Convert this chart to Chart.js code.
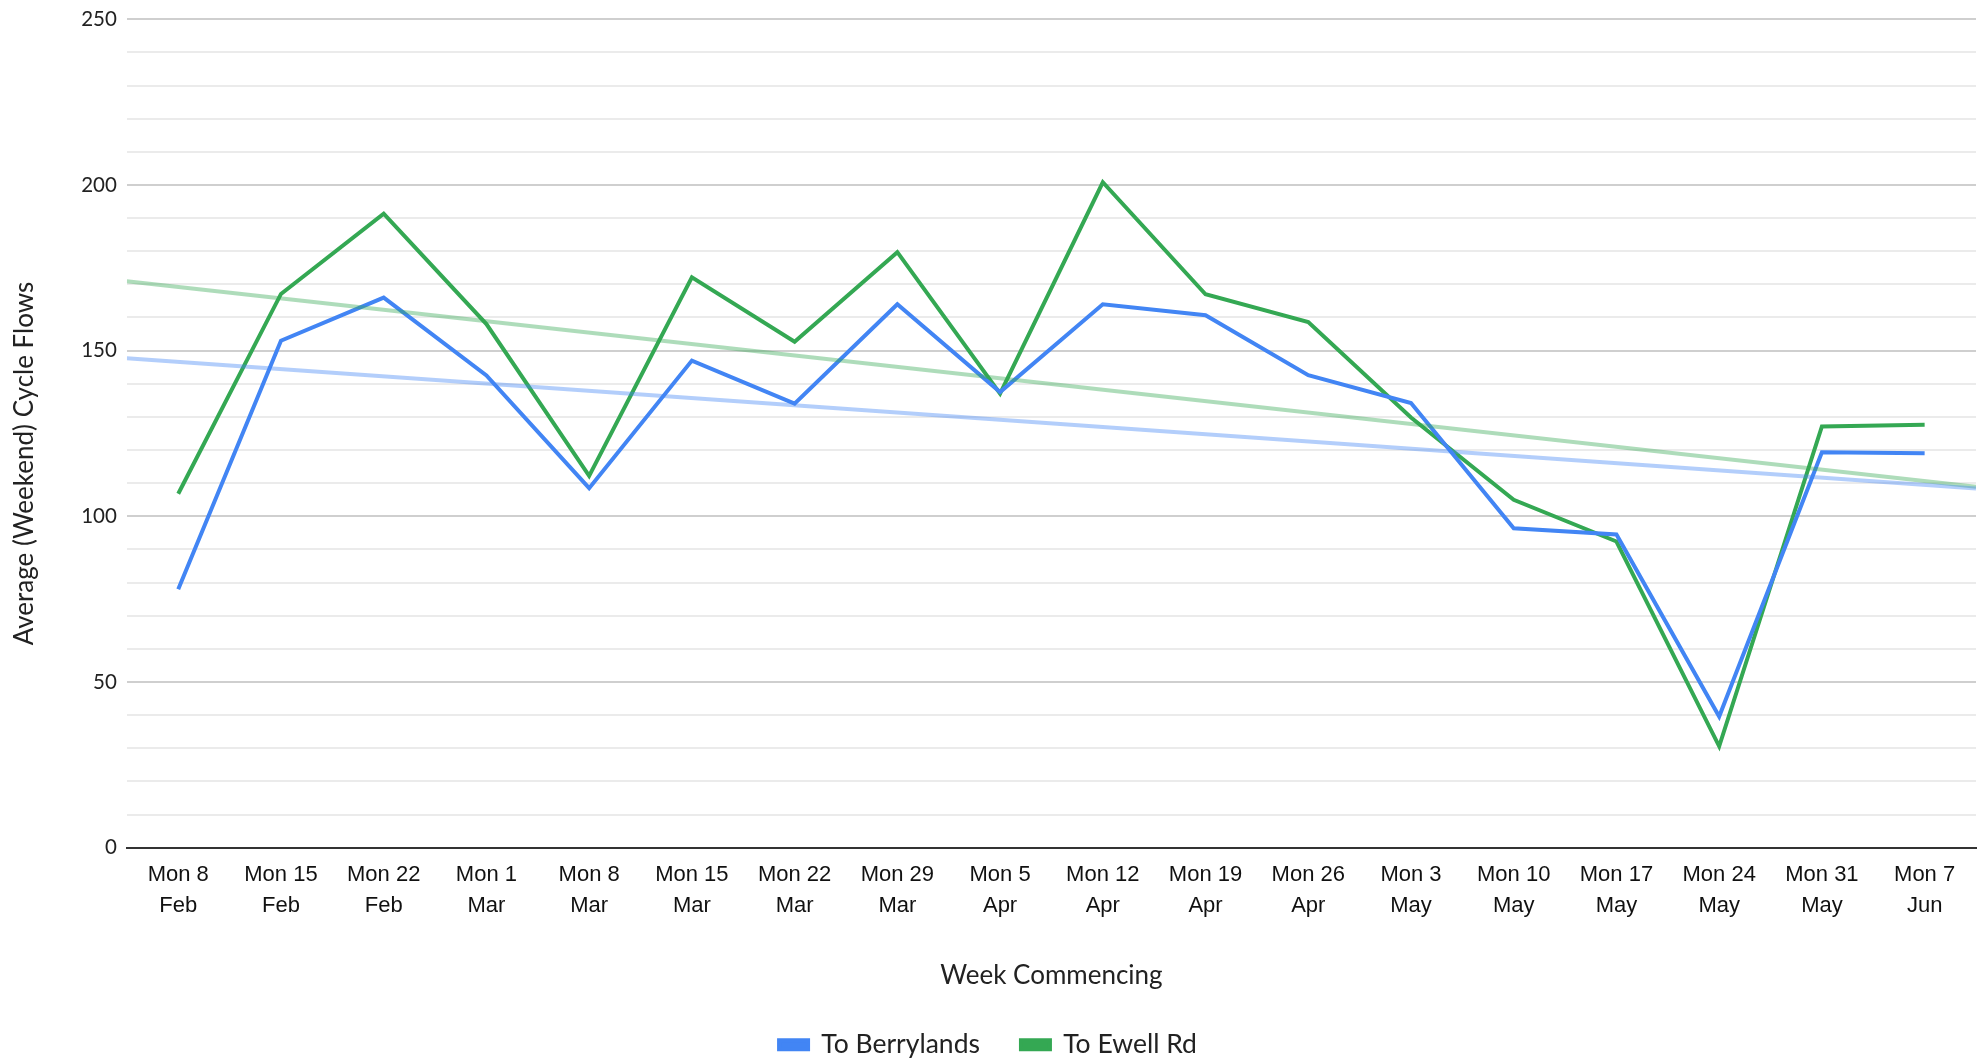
<!DOCTYPE html>
<html><head><meta charset="utf-8">
<script src="https://cdn.jsdelivr.net/npm/chart.js@4.4.1/dist/chart.umd.min.js"></script>
<style>html,body{margin:0;padding:0;background:#fff;overflow:hidden}</style>
</head><body>
<canvas id="c" width="1984" height="1064"></canvas>
<script>
const categories = [
  ['Mon 8','Feb'],['Mon 15','Feb'],['Mon 22','Feb'],['Mon 1','Mar'],['Mon 8','Mar'],
  ['Mon 15','Mar'],['Mon 22','Mar'],['Mon 29','Mar'],['Mon 5','Apr'],['Mon 12','Apr'],
  ['Mon 19','Apr'],['Mon 26','Apr'],['Mon 3','May'],['Mon 10','May'],['Mon 17','May'],
  ['Mon 24','May'],['Mon 31','May'],['Mon 7','Jun']
];
const toBerrylands = [78, 153, 166, 142.5, 108.5, 147, 134, 164, 137.5, 164, 160.7, 142.6, 134.2, 96.4, 94.5, 39.6, 119.3, 119];
const toEwellRd    = [106.8, 167.1, 191.3, 158, 112.2, 172.1, 152.7, 179.7, 137, 200.8, 167, 158.6, 129.8, 105, 92.4, 30.6, 127.1, 127.6];
const trendBerrylands = [147.7, 108.4];   // trend line value at left and right edge of plot
const trendEwellRd    = [170.9, 108.9];
const seriesNames = ['To Berrylands', 'To Ewell Rd'];
const xTitle = 'Week Commencing';
const yTitle = 'Average (Weekend) Cycle Flows';
const yMin = 0, yMax = 250, yStep = 10, yLabelEvery = 50;

const BLUE = '#4285F4', GREEN = '#34A853';
const edgeX = [-0.5, categories.length - 0.5];
const TITLE_FONT = { family: 'Lato', size: 26 };

// draws the y-axis title slightly below the plot centre, as in the reference
const yTitlePlugin = {
  id: 'yTitleShift',
  afterDraw(chart) {
    const s = chart.scales.y, ca = chart.chartArea, ctx = chart.ctx;
    const t = s.options.title;
    ctx.save();
    ctx.font = `${TITLE_FONT.size}px ${TITLE_FONT.family}`;
    ctx.fillStyle = '#222';
    ctx.textAlign = 'center';
    ctx.textBaseline = 'middle';
    ctx.translate(s.left + t.padding.top + TITLE_FONT.size * 0.6, (ca.top + ca.bottom) / 2 + 30);
    ctx.rotate(-Math.PI / 2);
    ctx.fillText(yTitle, 0, 0);
    ctx.restore();
  }
};

new Chart(document.getElementById('c'), {
  type: 'line',
  data: {
    labels: categories,
    datasets: [
      { label: seriesNames[0], data: toBerrylands, borderColor: BLUE, backgroundColor: BLUE, borderWidth: 4, pointRadius: 0, tension: 0, order: 2 },
      { label: seriesNames[1], data: toEwellRd, borderColor: GREEN, backgroundColor: GREEN, borderWidth: 4, pointRadius: 0, tension: 0, order: 2 },
      { label: 'trend1', data: edgeX.map((x,i)=>({x, y: trendBerrylands[i]})), xAxisID: 'xt', borderColor: 'rgba(66,133,244,0.4)', borderWidth: 4, pointRadius: 0, tension: 0, order: 1 },
      { label: 'trend2', data: edgeX.map((x,i)=>({x, y: trendEwellRd[i]})), xAxisID: 'xt', borderColor: 'rgba(52,168,83,0.4)', borderWidth: 4, pointRadius: 0, tension: 0, order: 1 }
    ]
  },
  plugins: [yTitlePlugin],
  options: {
    responsive: false,
    animation: false,
    devicePixelRatio: 1,
    layout: { padding: { top: 2, right: 8, left: 0, bottom: -4 } },
    plugins: {
      tooltip: { enabled: false },
      legend: {
        position: 'bottom',
        labels: {
          filter: (item) => item.datasetIndex < 2,
          boxWidth: 29, boxHeight: 9, padding: 41,
          color: '#222',
          font: { family: 'Lato', size: 26.5 }
        }
      }
    },
    scales: {
      x: {
        type: 'category',
        offset: true,
        grid: { display: false, drawTicks: false },
        border: { display: true, color: '#333', width: 2 },
        ticks: { color: '#111', font: { family: 'Liberation Sans', size: 22, lineHeight: 1.4 }, padding: 12, maxRotation: 0, autoSkip: false },
        title: { display: true, text: xTitle, color: '#222', font: TITLE_FONT, padding: { top: 27, bottom: -1 } }
      },
      xt: {
        type: 'linear', display: false, min: edgeX[0], max: edgeX[1]
      },
      y: {
        min: yMin, max: yMax,
        border: { display: false },
        grid: {
          drawTicks: false,
          lineWidth: 2,
          color: (ctx) => ctx.tick.value === 0 ? '#333' : (ctx.tick.value % yLabelEvery === 0 ? '#cfcfcf' : '#ebebeb')
        },
        ticks: {
          stepSize: yStep, padding: 10, color: '#222',
          font: { family: 'Lato', size: 20.5, lineHeight: 0.9 },
          callback: (v) => v % yLabelEvery === 0 ? v : ''
        },
        title: { display: true, text: yTitle, color: 'rgba(0,0,0,0)', font: TITLE_FONT, padding: { top: 9, bottom: 31 } }
      }
    }
  }
});
</script>
</body></html>
